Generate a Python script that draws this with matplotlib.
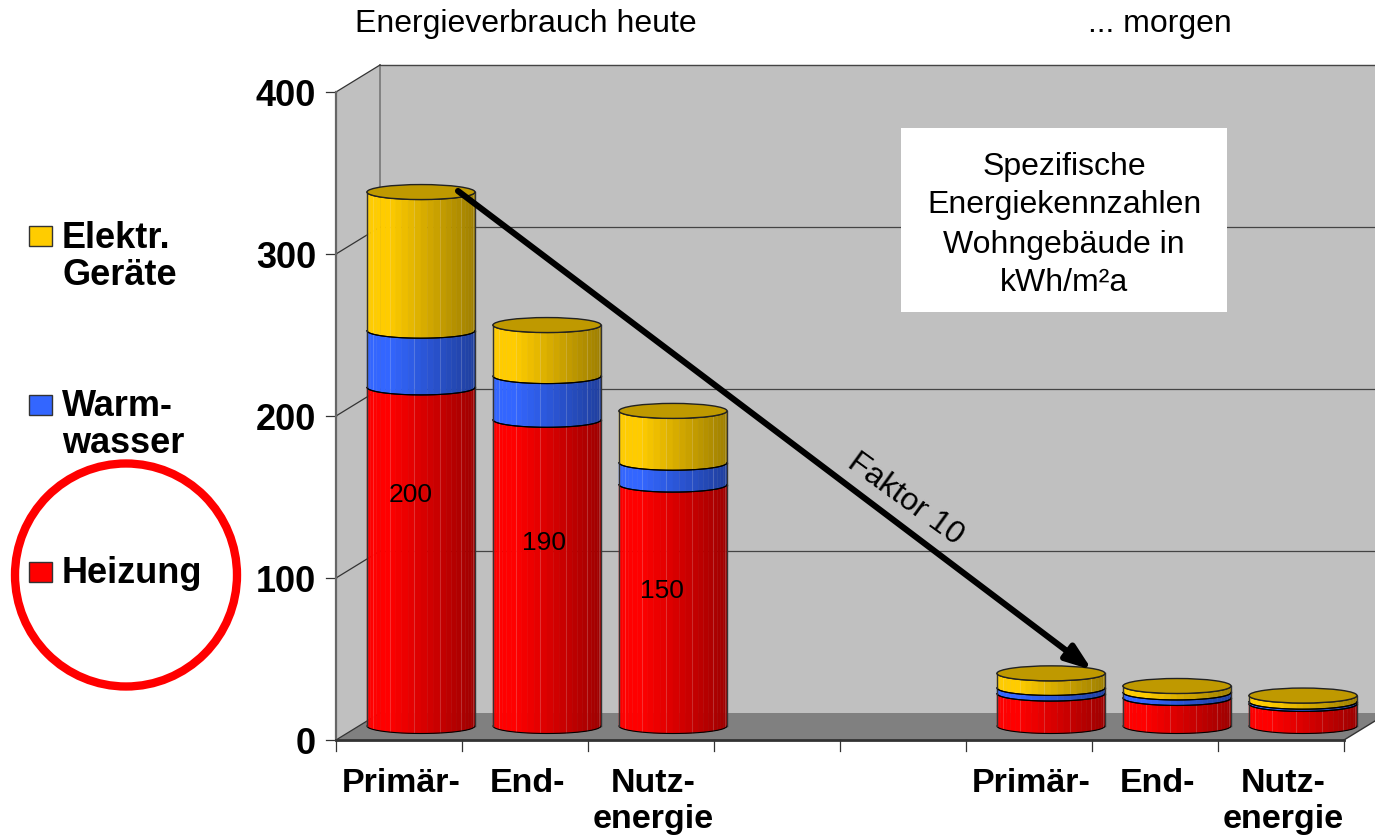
import numpy as np
import matplotlib
matplotlib.use('Agg')
import matplotlib.pyplot as plt
from matplotlib.patches import Polygon, Rectangle, Ellipse

plt.rcParams['font.family'] = ['Liberation Sans', 'DejaVu Sans']

# Data, heights
categories = ['Primär-', 'End-', 'Nutz-\nenergie', '', '', 'Primär-', 'End-', 'Nutz-\nenergie']
heizung = [209, 189, 149, 0, 0, 20, 17.3, 13.6]
warmwasser = [35, 27, 13.5, 0, 0, 3.5, 3.4, 1.4]
geraete = [85.6, 31.5, 32, 0, 0, 9, 4, 3.8]
value_labels = ['200', '190', '150']
y_ticks = [0, 100, 200, 300, 400]
series_colors = ['#FF0000', '#3366FF', '#FFCC00']
legend_names = ['Heizung', 'Warm-\nwasser', 'Elektr.\nGeräte']

W, H = 1375, 837
PX_X = 126.0   # pixels per category
PX_Y = 1.62    # pixels per kWh
X0, Y0 = 336, 741

# 3D offsets in data units
DEPTH_X = 44 / PX_X
DEPTH_Y = 27 / PX_Y
BAR_W = 54 / PX_X
ELL_H = 7.5 / PX_Y


def fx(px):
    return px / W


def fy(py):
    return 1 - py / H


def draw_segment(ax, cx, y0, y1, color, z):
    # facets of the cylinder from left to right, front half only
    theta = np.linspace(np.pi, 0, 27)
    xs = cx + BAR_W * np.cos(theta)
    arc = ELL_H * np.sin(theta)
    rgb = np.array(matplotlib.colors.to_rgb(color))
    for i in range(len(theta) - 1):
        frac = (xs[i] + xs[i + 1]) / 2
        frac = (frac - (cx - BAR_W)) / (2 * BAR_W)
        shade = 1.0 if frac < 0.2 else 1 - 0.38 * (frac - 0.2) / 0.8
        c = rgb * shade
        pts = [(xs[i], y0 - arc[i]), (xs[i + 1], y0 - arc[i + 1]),
               (xs[i + 1], y1 - arc[i + 1]), (xs[i], y1 - arc[i])]
        ax.add_patch(Polygon(pts, closed=True, fc=c, ec=c, lw=0.3, zorder=z))
        if i % 4 == 3 and y1 - y0 > 5:
            ax.plot([xs[i + 1], xs[i + 1]], [y0 - arc[i + 1], y1 - arc[i + 1]],
                    color='white', alpha=0.15, lw=0.8, zorder=z + 0.1)
    ax.plot(xs, y0 - arc, color='black', lw=0.8, zorder=z + 0.2)
    ax.plot(xs, y1 - arc, color='black', lw=0.8, zorder=z + 0.2)
    ax.plot([xs[0], xs[0]], [y0, y1], color='#333333', lw=1.0, zorder=z + 0.2)
    ax.plot([xs[-1], xs[-1]], [y0, y1], color='#333333', lw=1.0, zorder=z + 0.2)


fig = plt.figure(figsize=(W / 100, H / 100), dpi=100)
ax = fig.add_axes([0, 0, 1, 1])
ax.set_xlim(-X0 / PX_X, (W - X0) / PX_X)
ax.set_ylim((Y0 - H) / PX_Y, Y0 / PX_Y)
ax.axis('off')

# walls and floor
ax.add_patch(Polygon([(0, 0), (DEPTH_X, DEPTH_Y), (DEPTH_X, 400 + DEPTH_Y), (0, 400)],
                     fc='#C0C0C0', ec='none', zorder=1))
ax.add_patch(Rectangle((DEPTH_X, DEPTH_Y), 8, 400, fc='#C0C0C0', ec='none', zorder=1))
ax.add_patch(Polygon([(0, 0), (8, 0), (8 + DEPTH_X, DEPTH_Y), (DEPTH_X, DEPTH_Y)],
                     fc='#808080', ec='none', zorder=1.5))
ax.plot([DEPTH_X, DEPTH_X], [DEPTH_Y, 400 + DEPTH_Y], color='#777777', lw=1.2, zorder=2)
ax.plot([DEPTH_X, 8 + DEPTH_X], [400 + DEPTH_Y] * 2, color='#999999', lw=1.0, zorder=2)

# grid lines and y ticks
for v in y_ticks:
    if v > 0:
        ax.plot([DEPTH_X, 8 + DEPTH_X], [v + DEPTH_Y] * 2, color='#444444', lw=0.9, zorder=2)
    ax.plot([0, DEPTH_X], [v, v + DEPTH_Y], color='#333333', lw=0.9, zorder=2)
    ax.plot([-10 / PX_X, 0], [v, v], color='#333333', lw=0.9, zorder=2)
    ax.text(-20 / PX_X, v, str(v), ha='right', va='center_baseline',
            fontsize=26, fontweight='bold', zorder=6)

# axis lines
ax.plot([0, 0], [0, 400], color='#666666', lw=1.6, zorder=2)
ax.plot([0, 8], [0, 0], color='#333333', lw=2.0, zorder=2)
ax.plot([8, 8 + DEPTH_X], [0, DEPTH_Y], color='#333333', lw=1.0, zorder=2)
for i in range(9):
    ax.plot([i, i], [0, -11 / PX_Y], color='#333333', lw=0.9, zorder=2)

# x labels
for i, name in enumerate(categories):
    if name:
        ax.text(i + 0.516, -27 / PX_Y, name, ha='center', va='top', fontsize=24.5,
                fontweight='bold', linespacing=1.2, zorder=6)

# cylinders
stack = [heizung, warmwasser, geraete]
z = 3
for i in range(len(categories)):
    if heizung[i] == 0:
        continue
    cx = i + 0.5 + DEPTH_X / 2
    base = 14 / PX_Y
    for values, color in zip(stack, series_colors):
        top = base + values[i]
        draw_segment(ax, cx, base, top, color, z)
        base = top
    ax.add_patch(Ellipse((cx, base), 2 * BAR_W, 2 * ELL_H, fc='#BF9900', ec='#222222',
                         lw=1.0, zorder=z + 0.3))
    z += 0.5

# value labels inside the first three bars
for label, px, py in zip(value_labels, [411, 544, 662], [495, 543, 591]):
    ax.text(fx(px), fy(py), label, transform=fig.transFigure,
            ha='center', va='center', fontsize=19, zorder=6)

# header
fig.text(fx(526), fy(24), 'Energieverbrauch heute', ha='center', va='center', fontsize=23)
fig.text(fx(1160), fy(24), '... morgen', ha='center', va='center', fontsize=23)

# white text box
ax.add_patch(Rectangle((fx(901), fy(313)), fx(326), 184 / H, transform=fig.transFigure,
                       fc='white', ec='none', zorder=4))
box_lines = ['Spezifische', 'Energiekennzahlen', 'Wohngebäude in', 'kWh/m²a']
for line, py in zip(box_lines, [167, 205, 245, 283]):
    ax.text(fx(1064), fy(py), line, transform=fig.transFigure, ha='center', va='center',
            fontsize=23, zorder=5)

# arrow
ax.annotate('', xy=(fx(1092), fy(671)), xytext=(fx(458), fy(192)),
            xycoords='figure fraction', textcoords='figure fraction',
            arrowprops=dict(arrowstyle='-|>,head_length=1.1,head_width=0.4', mutation_scale=14,
                            color='black', lw=4.4, shrinkA=0, shrinkB=0), zorder=7)
ax.text(fx(905), fy(499), 'Faktor 10', transform=fig.transFigure, rotation=-36,
        rotation_mode='anchor', ha='center', va='center', fontsize=23, zorder=6)

# legend
swatch_y = [573, 406, 237]
text_y = [574, 425, 257]
for name, color, sy, ty in zip(legend_names, series_colors, swatch_y, text_y):
    ax.add_patch(Rectangle((fx(29), fy(sy + 10)), 23 / W, 20 / H, transform=fig.transFigure,
                           fc=color, ec='#333333', lw=1.0, zorder=6))
    ax.text(fx(62), fy(ty), name, transform=fig.transFigure, ha='left', va='center',
            fontsize=26, fontweight='bold', linespacing=1.08, zorder=6)

# red circle around Heizung
ax.add_patch(Ellipse((fx(126), fy(576)), 222 / W, 223 / H, transform=fig.transFigure,
                     fc='none', ec='#FF0000', lw=6, zorder=6))

fig.savefig('out.png', dpi=100)
